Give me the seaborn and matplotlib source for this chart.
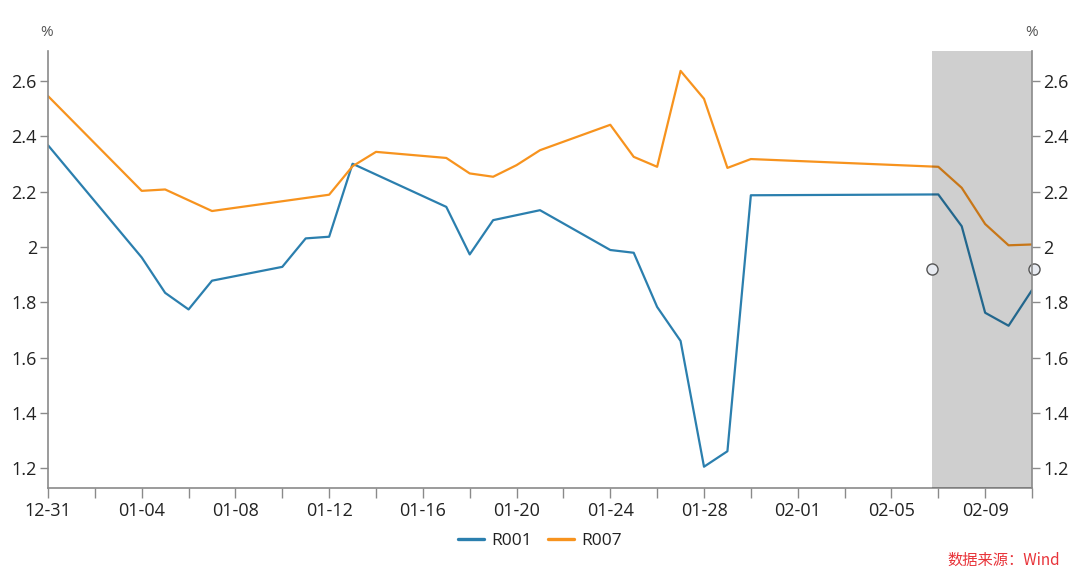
import matplotlib
matplotlib.use("Agg")
import matplotlib.pyplot as plt
import matplotlib.dates as mdates
import numpy as np
import pandas as pd
import seaborn as sns

# ---------------- data ----------------
dates = ["2024-12-31", "2025-01-04", "2025-01-05", "2025-01-06", "2025-01-07",
         "2025-01-10", "2025-01-11", "2025-01-12", "2025-01-13", "2025-01-14",
         "2025-01-17", "2025-01-18", "2025-01-19", "2025-01-20", "2025-01-21",
         "2025-01-24", "2025-01-25", "2025-01-26", "2025-01-27", "2025-01-28",
         "2025-01-29", "2025-01-30", "2025-02-07", "2025-02-08", "2025-02-09",
         "2025-02-10", "2025-02-11"]
r001 = [2.368, 1.962, 1.834, 1.774, 1.878,
        1.928, 2.031, 2.037, 2.301, None,
        2.145, 1.973, 2.097, None, 2.133,
        1.989, 1.979, 1.783, 1.660, 1.205,
        1.261, 2.187, 2.190, 2.075, 1.762,
        1.715, 1.844]
r007 = [2.546, 2.203, 2.208, None, 2.130,
        None, None, 2.189, 2.292, 2.344,
        2.322, 2.266, 2.254, 2.296, 2.350,
        2.442, 2.326, 2.290, 2.637, 2.536,
        2.286, 2.318, 2.290, 2.214, 2.083,
        2.006, 2.009]
series_names = ["R001", "R007"]
tick_dates = ["2024-12-31", "2025-01-04", "2025-01-08", "2025-01-12", "2025-01-16",
              "2025-01-20", "2025-01-24", "2025-01-28", "2025-02-01", "2025-02-05",
              "2025-02-09"]
y_ticks = [1.2, 1.4, 1.6, 1.8, 2.0, 2.2, 2.4, 2.6]
shade_range = ["2025-02-06 17:30", "2025-02-11"]
handle_level = 1.92
source_text = "数据来源：Wind"

# ---------------- frame ----------------
df = pd.DataFrame({"date": pd.to_datetime(dates), "R001": r001, "R007": r007})
long = df.melt(id_vars="date", value_vars=series_names, var_name="series", value_name="value")
long = long.dropna()
long["value"] = long["value"].astype(float)

sns.set_theme(style="white")
plt.rcParams["font.family"] = ["Open Sans", "Noto Sans CJK SC", "DejaVu Sans"]

fig = plt.figure(figsize=(10.8, 5.78), dpi=100)
ax = fig.add_axes([48 / 1080, 1 - 488 / 578, (1032 - 48) / 1080, (488 - 50.7) / 578])

palette = {"R001": "#2b7fae", "R007": "#f7931e"}
sns.lineplot(data=long, x="date", y="value", hue="series", palette=palette,
             linewidth=1.6, ax=ax, sort=True, estimator=None, legend=True)

xmin = pd.Timestamp(dates[0])
xmax = pd.Timestamp(dates[-1])
ax.set_xlim(xmin, xmax)
ax.set_ylim(1.128, 2.71)

axis_col = "#8a8a8a"
text_col = "#222222"

# x ticks
ax.set_xticks(pd.to_datetime(tick_dates))
ax.xaxis.set_major_formatter(mdates.DateFormatter("%m-%d"))
minor = pd.date_range(xmin, xmax, freq="2D")
ax.set_xticks(minor, minor=True)
ax.tick_params(axis="x", which="both", direction="out", length=7, width=1,
               color=axis_col, bottom=True)
ax.tick_params(axis="x", which="major", labelsize=13, labelcolor=text_col, pad=3)

# y ticks
ax.set_yticks(y_ticks)
ax.set_yticklabels([("%g" % v) for v in y_ticks])
ax.tick_params(axis="y", direction="out", length=6, width=1, color=axis_col,
               labelsize=13, labelcolor=text_col, left=True, pad=2)

ax.set_xlabel("")
ax.set_ylabel("")
ax.grid(False)
for s in ["top", "right"]:
    ax.spines[s].set_visible(False)
for s in ["left", "bottom"]:
    ax.spines[s].set_color(axis_col)
    ax.spines[s].set_linewidth(1.2)

# right axis
ax2 = ax.twinx()
ax2.set_ylim(ax.get_ylim())
ax2.set_yticks(y_ticks)
ax2.set_yticklabels([("%g" % v) for v in y_ticks])
ax2.tick_params(axis="y", direction="out", length=6, width=1, color=axis_col,
                labelsize=13, labelcolor=text_col, right=True, pad=2)
for s in ["top", "left", "bottom"]:
    ax2.spines[s].set_visible(False)
ax2.spines["right"].set_color(axis_col)
ax2.spines["right"].set_linewidth(1.2)
ax2.grid(False)

# shaded window on top of lines
ax.axvspan(pd.Timestamp(shade_range[0]), pd.Timestamp(shade_range[1]),
           color="black", alpha=0.19, lw=0, zorder=4)
for xv in [pd.Timestamp(shade_range[0]), pd.Timestamp(shade_range[1]) + pd.Timedelta(hours=2)]:
    ax.plot([xv], [handle_level], marker="o", ms=8, mfc="#e8ebf1", mec="#555555",
            mew=1.0, clip_on=False, zorder=6)

# legend
h, l = ax.get_legend_handles_labels()
leg = ax.legend(h, l, loc="center", bbox_to_anchor=(0.5, -0.122), ncol=2, frameon=False,
                fontsize=12.5, handlelength=1.5, handletextpad=0.45, columnspacing=0.9)
for t in leg.get_texts():
    t.set_color(text_col)
for ln in leg.get_lines():
    ln.set_linewidth(2.4)

# percent labels
fig.text(47 / 1080, 1 - 33 / 578, "%", ha="center", va="center", fontsize=11, color="#555555")
fig.text(1032 / 1080, 1 - 33 / 578, "%", ha="center", va="center", fontsize=11, color="#555555")

# source
fig.text(1060 / 1080, 1 - 560 / 578, source_text, ha="right", va="center", fontsize=11,
         color="#e8343a", family=["Noto Sans CJK SC", "DejaVu Sans"])

fig.savefig("out.png", dpi=100)
